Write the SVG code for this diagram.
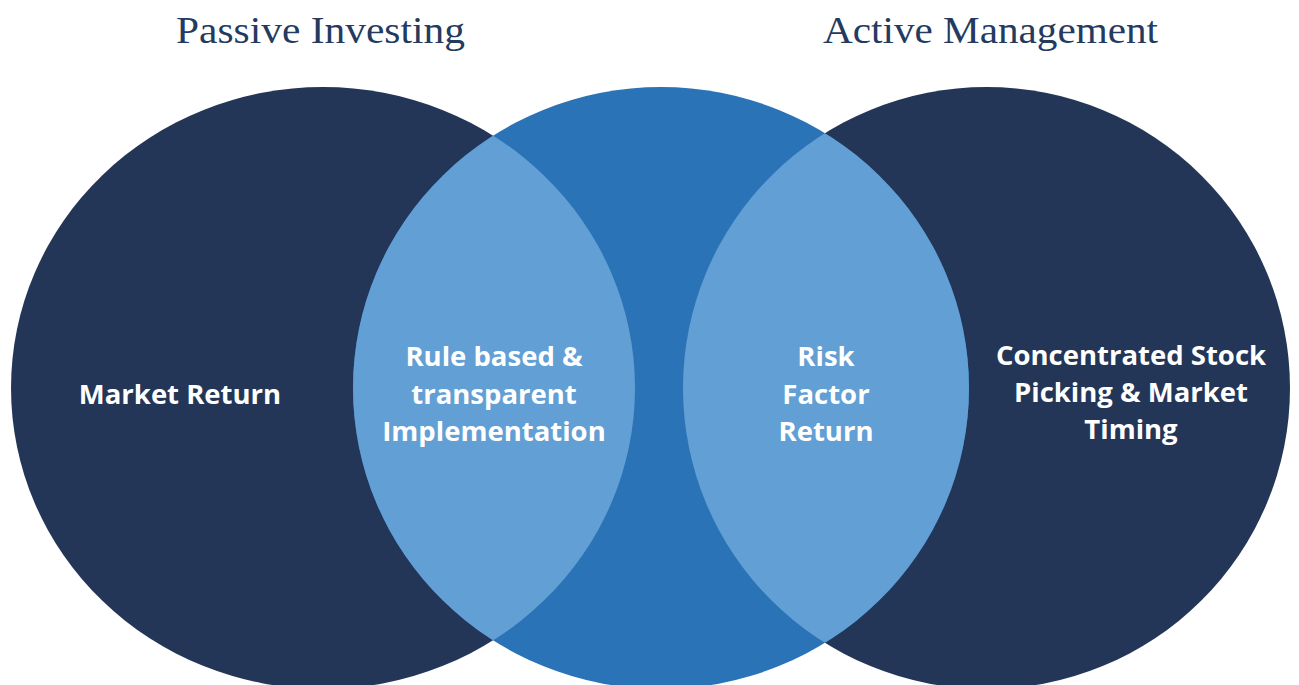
<svg xmlns="http://www.w3.org/2000/svg" width="1299" height="685" viewBox="0 0 1299 685">
  <style>
    .title { font-family: "Liberation Serif", "Times New Roman", serif; font-size: 38px; fill: #243a5e; text-anchor: middle; }
    .lbl { font-family: "Open Sans", "Liberation Sans", sans-serif; font-weight: 700; font-size: 27.5px; fill: #ffffff; text-anchor: middle; }
    .dark { fill: #243657; }
    .mid { fill: #2b73b7; }
    .light { fill: #629fd4; }
  </style>
  <defs>
    <clipPath id="clipLeft"><ellipse cx="323" cy="388" rx="312" ry="301"/></clipPath>
    <clipPath id="clipRight"><ellipse cx="986.5" cy="388" rx="303.5" ry="301"/></clipPath>
  </defs>
  <rect width="1299" height="685" fill="#ffffff"/>
  <g id="title-passive"><text class="title" x="320.5" y="43" textLength="289" lengthAdjust="spacingAndGlyphs">Passive Investing</text></g>
  <g id="title-active"><text class="title" x="990.5" y="43" textLength="335" lengthAdjust="spacingAndGlyphs">Active Management</text></g>
  <g id="circle-passive"><ellipse class="dark" cx="323" cy="388" rx="312" ry="301"/></g>
  <g id="circle-active"><ellipse class="dark" cx="986.5" cy="388" rx="303.5" ry="301"/></g>
  <g id="circle-smart"><ellipse class="mid" cx="661" cy="388" rx="308" ry="301"/></g>
  <g id="lens-left"><ellipse class="light" cx="661" cy="388" rx="308" ry="301" clip-path="url(#clipLeft)"/></g>
  <g id="lens-right"><ellipse class="light" cx="661" cy="388" rx="308" ry="301" clip-path="url(#clipRight)"/></g>
  <g id="label-market"><text class="lbl" x="180" y="404">Market Return</text></g>
  <g id="label-rule">
    <text class="lbl" x="494" y="366">Rule based &amp;</text>
    <text class="lbl" x="494" y="404">transparent</text>
    <text class="lbl" x="494" y="441">Implementation</text>
  </g>
  <g id="label-risk">
    <text class="lbl" x="826" y="366">Risk</text>
    <text class="lbl" x="826" y="404">Factor</text>
    <text class="lbl" x="826" y="441">Return</text>
  </g>
  <g id="label-active">
    <text class="lbl" x="1131" y="365">Concentrated Stock</text>
    <text class="lbl" x="1131" y="402">Picking &amp; Market</text>
    <text class="lbl" x="1131" y="439">Timing</text>
  </g>
  <g id="connectors"/>
</svg>
